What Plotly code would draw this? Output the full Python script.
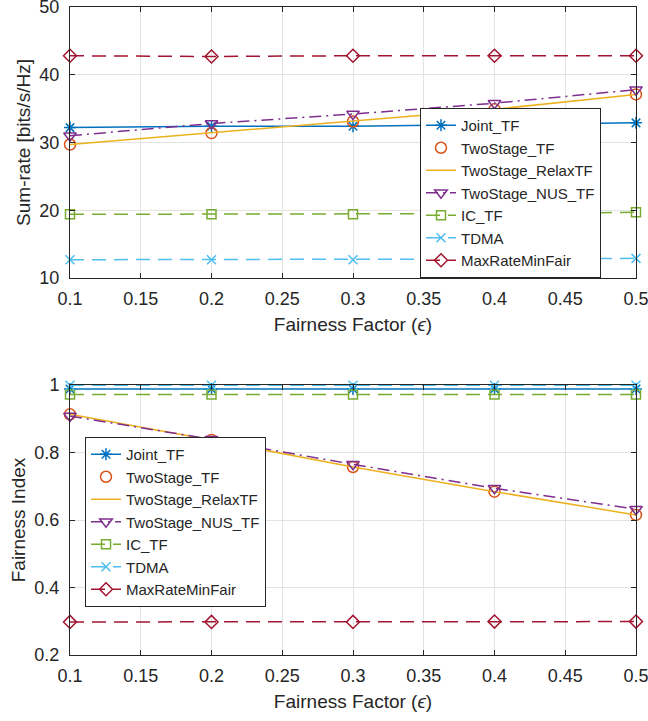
import plotly.graph_objects as go

# Fairness factor sweep
eps = [0.1, 0.2, 0.3, 0.4, 0.5]
x_ticks = [0.1, 0.15, 0.2, 0.25, 0.3, 0.35, 0.4, 0.45, 0.5]
x_tick_text = ["0.1", "0.15", "0.2", "0.25", "0.3", "0.35", "0.4", "0.45", "0.5"]

# Sum-rate [bits/s/Hz]
rate_joint = [32.2, 32.4, 32.4, 32.6, 32.9]
rate_twostage = [29.7, 31.4, 33.1, 34.9, 37.1]
rate_relax = [29.7, 31.4, 33.1, 34.9, 37.1]
rate_nus = [31.0, 32.8, 34.2, 35.8, 37.8]
rate_ic = [19.4, 19.4, 19.4, 19.5, 19.7]
rate_tdma = [12.7, 12.7, 12.7, 12.8, 12.9]
rate_maxrate = [42.8, 42.7, 42.8, 42.8, 42.8]

# Jain's fairness index
fair_joint = [0.988, 0.988, 0.988, 0.988, 0.988]
fair_twostage = [0.913, 0.837, 0.757, 0.684, 0.615]
fair_relax = [0.913, 0.837, 0.757, 0.684, 0.615]
fair_nus = [0.908, 0.839, 0.765, 0.694, 0.632]
fair_ic = [0.972, 0.972, 0.972, 0.972, 0.972]
fair_tdma = [0.999, 0.999, 0.999, 0.999, 0.999]
fair_maxrate = [0.298, 0.298, 0.298, 0.299, 0.299]

y_top_ticks = [10, 20, 30, 40, 50]
y_bot_ticks = [0.2, 0.4, 0.6, 0.8, 1.0]
y_bot_text = ["0.2", "0.4", "0.6", "0.8", "1"]

FONT = "Liberation Sans, Arial, Helvetica, sans-serif"
INK = "#262626"

# name, colour, mode, line dash, marker symbol, marker size
styles = [
    ("Joint_TF", "#0072BD", "lines+markers", "solid", "asterisk-open", 10),
    ("TwoStage_TF", "#D95319", "markers", "solid", "circle-open", 11),
    ("TwoStage_RelaxTF", "#EDB120", "lines", "solid", None, 0),
    ("TwoStage_NUS_TF", "#7E2F8E", "lines+markers", "12px,5px,2px,5px", "triangle-down-open", 11),
    ("IC_TF", "#77AC30", "lines+markers", "14px,8px", "square-open", 9),
    ("TDMA", "#4DBEEE", "lines+markers", "14px,8px", "x-thin-open", 9),
    ("MaxRateMinFair", "#A2142F", "lines+markers", "14px,8px", "diamond-open", 10),
]

top_series = [rate_joint, rate_twostage, rate_relax, rate_nus, rate_ic, rate_tdma, rate_maxrate]
bot_series = [fair_joint, fair_twostage, fair_relax, fair_nus, fair_ic, fair_tdma, fair_maxrate]

fig = go.Figure()


def add_panel(series, xaxis, yaxis, legend):
    for (name, color, mode, dash, symbol, size), ys in zip(styles, series):
        tr = dict(
            x=eps, y=ys, name=name, mode=mode,
            xaxis=xaxis, yaxis=yaxis, legend=legend,
            line=dict(color=color, width=1.5, dash=dash),
            cliponaxis=False,
        )
        if symbol:
            tr["marker"] = dict(symbol=symbol, size=size, color=color,
                                line=dict(color=color, width=1.5))
        fig.add_trace(go.Scatter(**tr))


add_panel(top_series, "x", "y", "legend")
add_panel(bot_series, "x2", "y2", "legend2")

W, H = 648, 721
x_dom = [70 / W, 636 / W]
top_dom = [1 - 278 / H, 1 - 7 / H]
bot_dom = [1 - 655 / H, 1 - 385 / H]

axis_common = dict(
    showline=True, linecolor=INK, linewidth=1, mirror="allticks",
    ticks="inside", ticklen=5, tickcolor=INK, tickwidth=1,
    showgrid=True, gridcolor="#e3e3e3", gridwidth=1,
    zeroline=False, tickfont=dict(family=FONT, size=18, color=INK),
    ticklabeloverflow="allow", automargin=False,
)

xa = dict(axis_common, domain=x_dom, range=[0.1, 0.5], tickvals=x_ticks,
          ticktext=x_tick_text, ticklabelstandoff=4,
          title=dict(text="Fairness Factor (<i>ϵ</i>)", standoff=10,
                     font=dict(family=FONT, size=19, color=INK)))

ya_title_font = dict(family=FONT, size=19, color=INK)

legend_common = dict(
    xanchor="left", bgcolor="white", bordercolor=INK, borderwidth=1,
    font=dict(family=FONT, size=15, color=INK), tracegroupgap=0,
)

fig.update_layout(
    width=W, height=H, autosize=False,
    margin=dict(l=0, r=0, t=0, b=0, pad=0, autoexpand=False),
    paper_bgcolor="white", plot_bgcolor="white",
    font=dict(family=FONT, color=INK),
    xaxis=dict(xa, anchor="y"),
    yaxis=dict(axis_common, domain=top_dom, range=[10, 50], tickvals=y_top_ticks,
               anchor="x", ticklabelstandoff=6,
               title=dict(text="Sum-rate [bits/s/Hz]", standoff=3, font=ya_title_font)),
    xaxis2=dict(xa, anchor="y2"),
    yaxis2=dict(axis_common, domain=bot_dom, range=[0.2, 1.0], tickvals=y_bot_ticks,
                ticktext=y_bot_text, anchor="x2", ticklabelstandoff=6,
                title=dict(text="Fairness Index", standoff=3, font=ya_title_font)),
    legend=dict(legend_common, x=420 / W, y=1 - 278 / H, yanchor="bottom"),
    legend2=dict(legend_common, x=85 / W, y=1 - 522 / H, yanchor="middle"),
)

fig.write_html(
    "out.html",
    post_script="document.body.style.margin='0';document.body.style.overflow='hidden';",
)
